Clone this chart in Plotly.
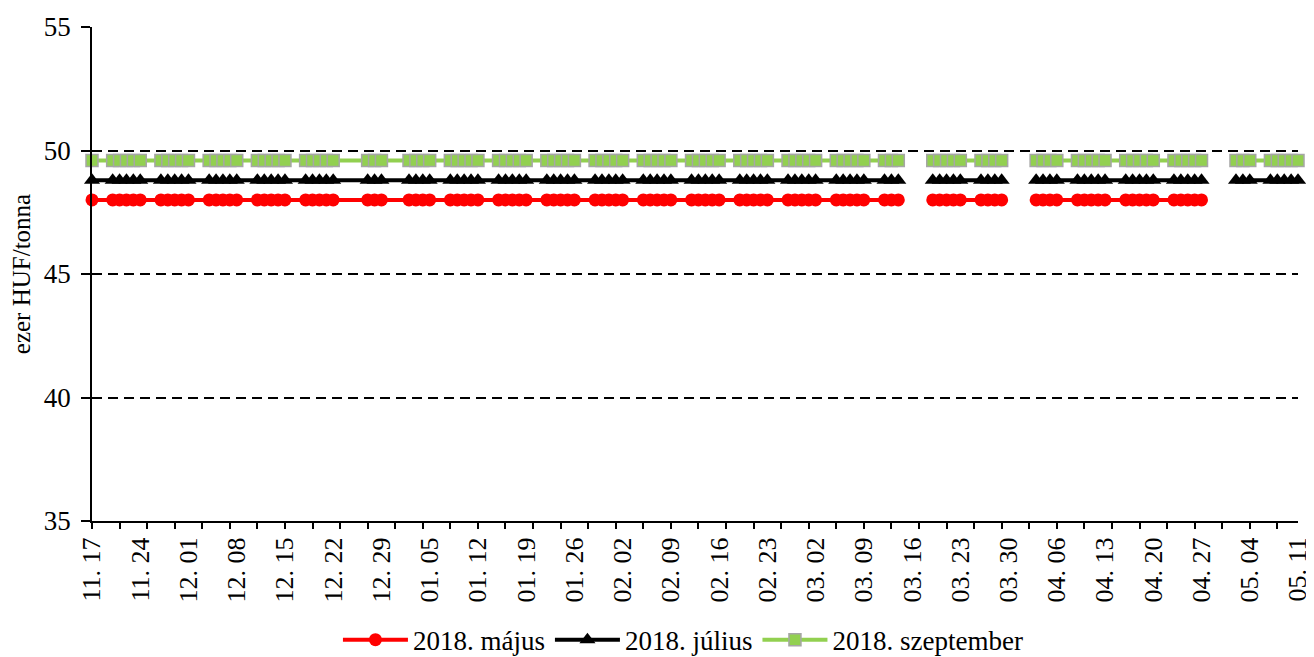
import plotly.graph_objects as go

# Trading days (rows); None marks rows with missing quotes (holidays)
dates = [
    "2017-11-17",
    "2017-11-20", "2017-11-21", "2017-11-22", "2017-11-23", "2017-11-24",
    "2017-11-27", "2017-11-28", "2017-11-29", "2017-11-30", "2017-12-01",
    "2017-12-04", "2017-12-05", "2017-12-06", "2017-12-07", "2017-12-08",
    "2017-12-11", "2017-12-12", "2017-12-13", "2017-12-14", "2017-12-15",
    "2017-12-18", "2017-12-19", "2017-12-20", "2017-12-21", "2017-12-22",
    "2017-12-27", "2017-12-28", "2017-12-29",
    "2018-01-02", "2018-01-03", "2018-01-04", "2018-01-05",
    "2018-01-08", "2018-01-09", "2018-01-10", "2018-01-11", "2018-01-12",
    "2018-01-15", "2018-01-16", "2018-01-17", "2018-01-18", "2018-01-19",
    "2018-01-22", "2018-01-23", "2018-01-24", "2018-01-25", "2018-01-26",
    "2018-01-29", "2018-01-30", "2018-01-31", "2018-02-01", "2018-02-02",
    "2018-02-05", "2018-02-06", "2018-02-07", "2018-02-08", "2018-02-09",
    "2018-02-12", "2018-02-13", "2018-02-14", "2018-02-15", "2018-02-16",
    "2018-02-19", "2018-02-20", "2018-02-21", "2018-02-22", "2018-02-23",
    "2018-02-26", "2018-02-27", "2018-02-28", "2018-03-01", "2018-03-02",
    "2018-03-05", "2018-03-06", "2018-03-07", "2018-03-08", "2018-03-09",
    "2018-03-12", "2018-03-13", "2018-03-14", "2018-03-15", "2018-03-16",
    "2018-03-19", "2018-03-20", "2018-03-21", "2018-03-22", "2018-03-23",
    "2018-03-26", "2018-03-27", "2018-03-28", "2018-03-29", "2018-03-30",
    "2018-04-02", "2018-04-03", "2018-04-04", "2018-04-05", "2018-04-06",
    "2018-04-09", "2018-04-10", "2018-04-11", "2018-04-12", "2018-04-13",
    "2018-04-16", "2018-04-17", "2018-04-18", "2018-04-19", "2018-04-20",
    "2018-04-23", "2018-04-24", "2018-04-25", "2018-04-26", "2018-04-27",
    "2018-04-30", "2018-05-01", "2018-05-02", "2018-05-03", "2018-05-04",
    "2018-05-07", "2018-05-08", "2018-05-09", "2018-05-10", "2018-05-11",
]

majus = [
    48.0,
    48.0, 48.0, 48.0, 48.0, 48.0,
    48.0, 48.0, 48.0, 48.0, 48.0,
    48.0, 48.0, 48.0, 48.0, 48.0,
    48.0, 48.0, 48.0, 48.0, 48.0,
    48.0, 48.0, 48.0, 48.0, 48.0,
    48.0, 48.0, 48.0,
    48.0, 48.0, 48.0, 48.0,
    48.0, 48.0, 48.0, 48.0, 48.0,
    48.0, 48.0, 48.0, 48.0, 48.0,
    48.0, 48.0, 48.0, 48.0, 48.0,
    48.0, 48.0, 48.0, 48.0, 48.0,
    48.0, 48.0, 48.0, 48.0, 48.0,
    48.0, 48.0, 48.0, 48.0, 48.0,
    48.0, 48.0, 48.0, 48.0, 48.0,
    48.0, 48.0, 48.0, 48.0, 48.0,
    48.0, 48.0, 48.0, 48.0, 48.0,
    48.0, 48.0, 48.0, None, None,
    48.0, 48.0, 48.0, 48.0, 48.0,
    48.0, 48.0, 48.0, 48.0, None,
    None, 48.0, 48.0, 48.0, 48.0,
    48.0, 48.0, 48.0, 48.0, 48.0,
    48.0, 48.0, 48.0, 48.0, 48.0,
    48.0, 48.0, 48.0, 48.0, 48.0,
    None, None, None, None, None,
    None, None, None, None, None,
]

julius = [
    48.8,
    48.8, 48.8, 48.8, 48.8, 48.8,
    48.8, 48.8, 48.8, 48.8, 48.8,
    48.8, 48.8, 48.8, 48.8, 48.8,
    48.8, 48.8, 48.8, 48.8, 48.8,
    48.8, 48.8, 48.8, 48.8, 48.8,
    48.8, 48.8, 48.8,
    48.8, 48.8, 48.8, 48.8,
    48.8, 48.8, 48.8, 48.8, 48.8,
    48.8, 48.8, 48.8, 48.8, 48.8,
    48.8, 48.8, 48.8, 48.8, 48.8,
    48.8, 48.8, 48.8, 48.8, 48.8,
    48.8, 48.8, 48.8, 48.8, 48.8,
    48.8, 48.8, 48.8, 48.8, 48.8,
    48.8, 48.8, 48.8, 48.8, 48.8,
    48.8, 48.8, 48.8, 48.8, 48.8,
    48.8, 48.8, 48.8, 48.8, 48.8,
    48.8, 48.8, 48.8, None, None,
    48.8, 48.8, 48.8, 48.8, 48.8,
    48.8, 48.8, 48.8, 48.8, None,
    None, 48.8, 48.8, 48.8, 48.8,
    48.8, 48.8, 48.8, 48.8, 48.8,
    48.8, 48.8, 48.8, 48.8, 48.8,
    48.8, 48.8, 48.8, 48.8, 48.8,
    None, None, 48.8, 48.8, 48.8,
    48.8, 48.8, 48.8, 48.8, 48.8,
]

szeptember = [
    49.6,
    49.6, 49.6, 49.6, 49.6, 49.6,
    49.6, 49.6, 49.6, 49.6, 49.6,
    49.6, 49.6, 49.6, 49.6, 49.6,
    49.6, 49.6, 49.6, 49.6, 49.6,
    49.6, 49.6, 49.6, 49.6, 49.6,
    49.6, 49.6, 49.6,
    49.6, 49.6, 49.6, 49.6,
    49.6, 49.6, 49.6, 49.6, 49.6,
    49.6, 49.6, 49.6, 49.6, 49.6,
    49.6, 49.6, 49.6, 49.6, 49.6,
    49.6, 49.6, 49.6, 49.6, 49.6,
    49.6, 49.6, 49.6, 49.6, 49.6,
    49.6, 49.6, 49.6, 49.6, 49.6,
    49.6, 49.6, 49.6, 49.6, 49.6,
    49.6, 49.6, 49.6, 49.6, 49.6,
    49.6, 49.6, 49.6, 49.6, 49.6,
    49.6, 49.6, 49.6, None, None,
    49.6, 49.6, 49.6, 49.6, 49.6,
    49.6, 49.6, 49.6, 49.6, None,
    None, 49.6, 49.6, 49.6, 49.6,
    49.6, 49.6, 49.6, 49.6, 49.6,
    49.6, 49.6, 49.6, 49.6, 49.6,
    49.6, 49.6, 49.6, 49.6, 49.6,
    None, None, 49.6, 49.6, 49.6,
    49.6, 49.6, 49.6, 49.6, 49.6,
]

series_names = ["2018. május", "2018. július", "2018. szeptember"]
x_range = ["2017-11-17", "2018-05-11"]
y_ticks = [35, 40, 45, 50, 55]

FONT = "Liberation Serif, Times New Roman, serif"
DAY_MS = 86400000

fig = go.Figure()
fig.add_trace(go.Scatter(
    x=dates, y=majus, name=series_names[0], mode="lines+markers",
    line=dict(color="#FF0000", width=4),
    marker=dict(symbol="circle", size=13, color="#FF0000", line=dict(width=0)),
    connectgaps=False, cliponaxis=False,
))
fig.add_trace(go.Scatter(
    x=dates, y=julius, name=series_names[1], mode="lines+markers",
    line=dict(color="#000000", width=4),
    marker=dict(symbol="triangle-up", size=14, color="#000000", line=dict(width=0)),
    connectgaps=False, cliponaxis=False,
))
fig.add_trace(go.Scatter(
    x=dates, y=szeptember, name=series_names[2], mode="lines+markers",
    line=dict(color="#92D050", width=4),
    marker=dict(symbol="square", size=12, color="#92D050",
                line=dict(width=1.5, color="#A6A6A6")),
    connectgaps=False, cliponaxis=False,
))
# carrier for the label axis (weekly labels)
fig.add_trace(go.Scatter(
    x=x_range, y=[35, 35], xaxis="x2", yaxis="y", mode="markers",
    marker=dict(opacity=0, size=1), showlegend=False, hoverinfo="skip",
))

# the page body adds an 8 px offset, so the figure is sized/margined to compensate
fig.update_layout(
    width=1306, height=649,
    margin=dict(l=84, r=16, t=19, b=136),
    paper_bgcolor="white", plot_bgcolor="white",
    font=dict(family=FONT, size=22, color="black"),
    showlegend=True,
    legend=dict(
        orientation="h", x=0.49, xanchor="center",
        yref="container", y=0.026, yanchor="middle",
        font=dict(family=FONT, size=27, color="black"),
        tracegroupgap=0, itemwidth=65,
    ),
    xaxis=dict(
        type="date", range=x_range, automargin=False,
        tick0="2017-11-17", dtick=4 * DAY_MS,
        ticks="outside", ticklen=6, tickwidth=1.5, tickcolor="black",
        showticklabels=False, showgrid=False,
        showline=True, linecolor="black", linewidth=1.5,
        zeroline=False,
    ),
    xaxis2=dict(
        type="date", range=x_range, overlaying="x", anchor="y", side="bottom",
        automargin=False, ticklabeloverflow="allow",
        tick0="2017-11-17", dtick=7 * DAY_MS, tickformat="%m. %d",
        tickangle=-90, ticks="outside", ticklen=5, tickcolor="rgba(0,0,0,0)",
        tickfont=dict(family=FONT, size=26, color="black"),
        showgrid=False, showline=False, zeroline=False,
    ),
    yaxis=dict(
        range=[35, 55], tickvals=y_ticks, automargin=False,
        ticks="outside", ticklen=9, tickwidth=1.5, tickcolor="black",
        ticklabelstandoff=5,
        tickfont=dict(family=FONT, size=27, color="black"),
        showgrid=True, gridcolor="black", gridwidth=1.5, griddash="10px,6px",
        showline=True, linecolor="black", linewidth=1.5, zeroline=False,
        title=dict(text="ezer HUF/tonna", font=dict(family=FONT, size=25, color="black"),
                   standoff=12),
    ),
)

fig.write_html("out.html")
